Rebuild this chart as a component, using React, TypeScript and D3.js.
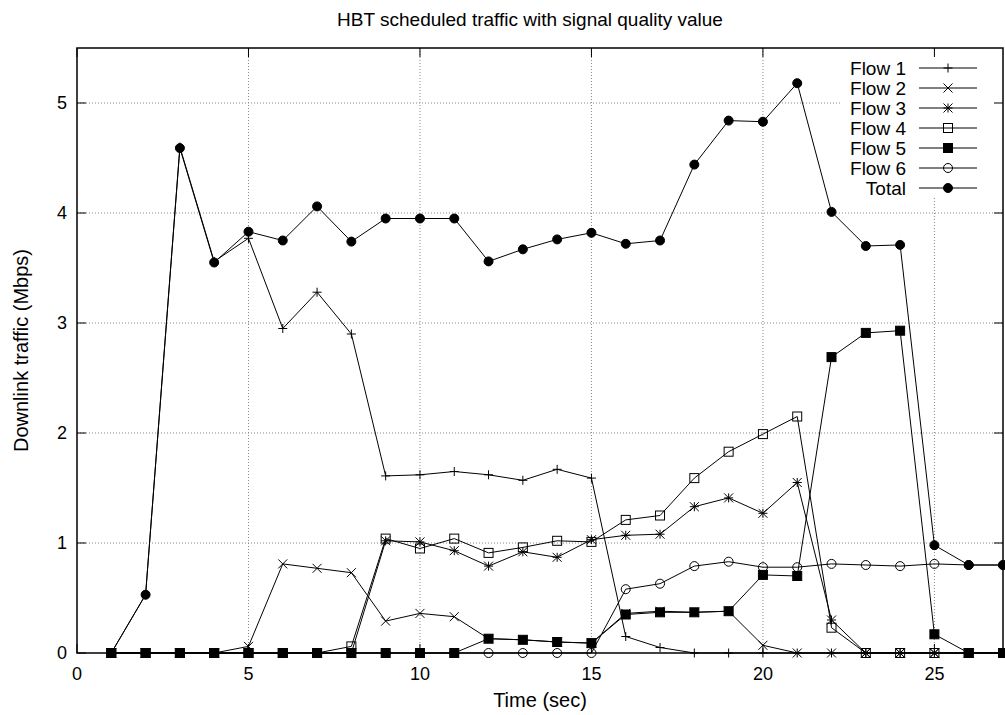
import React from "react";
import * as d3 from "d3";

const xs = [1, 2, 3, 4, 5, 6, 7, 8, 9, 10, 11, 12, 13, 14, 15, 16, 17, 18, 19, 20, 21, 22, 23, 24, 25, 26, 27];
const flow1 = [0, 0.53, 4.6, 3.56, 3.77, 2.95, 3.28, 2.9, 1.61, 1.62, 1.65, 1.62, 1.57, 1.67, 1.59, 0.15, 0.05, 0, 0, 0, 0, 0, 0, 0, 0, 0, 0];
const flow2 = [0, 0, 0, 0, 0.06, 0.81, 0.77, 0.73, 0.29, 0.36, 0.33, 0.13, 0.12, 0.1, 0.09, 0.36, 0.38, 0.37, 0.38, 0.07, 0, 0, 0, 0, 0, 0, 0];
const flow3 = [0, 0, 0, 0, 0, 0, 0, 0, 1.02, 1.01, 0.93, 0.79, 0.92, 0.87, 1.03, 1.07, 1.08, 1.33, 1.41, 1.27, 1.55, 0.3, 0, 0, 0, 0, 0];
const flow4 = [0, 0, 0, 0, 0, 0, 0, 0.06, 1.04, 0.95, 1.04, 0.91, 0.96, 1.02, 1.01, 1.21, 1.25, 1.59, 1.83, 1.99, 2.15, 0.23, 0, 0, 0, 0, 0];
const flow5 = [0, 0, 0, 0, 0, 0, 0, 0, 0, 0, 0, 0.13, 0.12, 0.1, 0.09, 0.35, 0.37, 0.37, 0.38, 0.71, 0.7, 2.69, 2.91, 2.93, 0.17, 0, 0];
const flow6 = [0, 0, 0, 0, 0, 0, 0, 0, 0, 0, 0, 0, 0, 0, 0, 0.58, 0.63, 0.79, 0.83, 0.78, 0.78, 0.81, 0.8, 0.79, 0.81, 0.8, 0.8];
const total = [0, 0.53, 4.59, 3.55, 3.83, 3.75, 4.06, 3.74, 3.95, 3.95, 3.95, 3.56, 3.67, 3.76, 3.82, 3.72, 3.75, 4.44, 4.84, 4.83, 5.18, 4.01, 3.7, 3.71, 0.98, 0.8, 0.8];

const seriesNames = ["Flow 1", "Flow 2", "Flow 3", "Flow 4", "Flow 5", "Flow 6", "Total"];
const seriesMarkers = ["plus", "cross", "star", "square", "fsquare", "circle", "fcircle"];
const seriesValues = [flow1, flow2, flow3, flow4, flow5, flow6, total];

const xTicks = [0, 5, 10, 15, 20, 25];
const yTicks = [0, 1, 2, 3, 4, 5];

const W = 1005, H = 715;
const M = { left: 77, right: 1003, top: 48, bottom: 653 };
const FONT = "'Liberation Sans', Arial, sans-serif";

function Marker({ type, x, y }: { type: string; x: number; y: number }) {
  const s = 4.5;
  switch (type) {
    case "plus":
      return <path d={`M${x - s},${y}H${x + s}M${x},${y - s}V${y + s}`} stroke="#000" strokeWidth={1} />;
    case "cross":
      return <path d={`M${x - s},${y - s}L${x + s},${y + s}M${x - s},${y + s}L${x + s},${y - s}`} stroke="#000" strokeWidth={1} />;
    case "star":
      return <path d={`M${x - s},${y}H${x + s}M${x},${y - s}V${y + s}M${x - s},${y - s}L${x + s},${y + s}M${x - s},${y + s}L${x + s},${y - s}`} stroke="#000" strokeWidth={1} />;
    case "square":
      return <rect x={x - s} y={y - s} width={2 * s} height={2 * s} fill="none" stroke="#000" strokeWidth={1} />;
    case "fsquare":
      return <rect x={x - s} y={y - s} width={2 * s} height={2 * s} fill="#000" stroke="#000" strokeWidth={1} />;
    case "circle":
      return <circle cx={x} cy={y} r={s} fill="none" stroke="#000" strokeWidth={1} />;
    default:
      return <circle cx={x} cy={y} r={s} fill="#000" stroke="#000" strokeWidth={1} />;
  }
}

export default function App() {
  const x = d3.scaleLinear().domain([0, 27]).range([M.left, M.right]);
  const y = d3.scaleLinear().domain([0, 5.5]).range([M.bottom, M.top]);
  const line = d3.line<number>().x((_, i) => x(xs[i])).y((d) => y(d));
  const tick = 9;

  const legendTextX = 906;
  const legendLineX1 = 919;
  const legendLineX2 = 977;
  const legendY0 = 68;
  const legendDy = 20;

  return (
    <svg width={W} height={H} style={{ position: "absolute", left: 0, top: 0, background: "#fff" }} fontFamily={FONT}>
      <rect x={0} y={0} width={W} height={H} fill="#fff" />
      {/* grid */}
      {xTicks.filter((t) => t > 0).map((t) => (
        <line key={"gx" + t} x1={x(t)} x2={x(t)} y1={M.top} y2={M.bottom} stroke="#888" strokeWidth={1} strokeDasharray="1,2" />
      ))}
      {yTicks.filter((t) => t > 0).map((t) => (
        <line key={"gy" + t} x1={M.left} x2={M.right} y1={y(t)} y2={y(t)} stroke="#888" strokeWidth={1} strokeDasharray="1,2" />
      ))}
      {/* legend background */}
      <rect x={840} y={M.top + 1} width={M.right - 841} height={148} fill="#fff" />
      {/* ticks */}
      {xTicks.map((t) => (
        <g key={"tx" + t}>
          <line x1={x(t)} x2={x(t)} y1={M.bottom} y2={M.bottom - tick} stroke="#000" />
          <line x1={x(t)} x2={x(t)} y1={M.top} y2={M.top + tick} stroke="#000" />
          <text x={x(t)} y={680} textAnchor="middle" fontSize={18}>{t}</text>
        </g>
      ))}
      {yTicks.map((t) => (
        <g key={"ty" + t}>
          <line x1={M.left} x2={M.left + tick} y1={y(t)} y2={y(t)} stroke="#000" />
          <line x1={M.right} x2={M.right - tick} y1={y(t)} y2={y(t)} stroke="#000" />
          <text x={67} y={y(t)} dy="0.36em" textAnchor="end" fontSize={18}>{t}</text>
        </g>
      ))}
      {/* series */}
      {seriesValues.map((vals, si) => (
        <g key={"s" + si}>
          <path d={line(vals) || ""} fill="none" stroke="#000" strokeWidth={1} />
          {vals.map((v, i) => (
            <Marker key={i} type={seriesMarkers[si]} x={x(xs[i])} y={y(v)} />
          ))}
        </g>
      ))}
      {/* legend */}
      {seriesNames.map((n, i) => {
        const ly = legendY0 + i * legendDy;
        return (
          <g key={"l" + i}>
            <text x={legendTextX} y={ly} dy="0.36em" textAnchor="end" fontSize={19}>{n}</text>
            <line x1={legendLineX1} x2={legendLineX2} y1={ly} y2={ly} stroke="#000" />
            <Marker type={seriesMarkers[i]} x={(legendLineX1 + legendLineX2) / 2} y={ly} />
          </g>
        );
      })}
      {/* frame */}
      <rect x={M.left} y={M.top} width={M.right - M.left} height={M.bottom - M.top} fill="none" stroke="#000" strokeWidth={1.5} />
      {/* titles */}
      <text x={530} y={26} textAnchor="middle" fontSize={19}>HBT scheduled traffic with signal quality value</text>
      <text x={(M.left + M.right) / 2} y={707} textAnchor="middle" fontSize={20}>Time (sec)</text>
      <text transform={`translate(28,${(M.top + M.bottom) / 2}) rotate(-90)`} textAnchor="middle" fontSize={20}>Downlink traffic (Mbps)</text>
    </svg>
  );
}
